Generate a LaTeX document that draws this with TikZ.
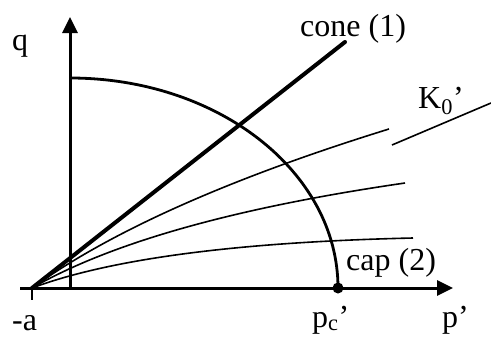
\documentclass[tikz,border=0pt]{standalone}
\usepackage{fontspec}
\setmainfont{Liberation Serif}
\usetikzlibrary{arrows.meta,positioning}
\tikzset{
  yfaxis/.style={line width=3pt,-{Triangle[length=16pt,width=15pt]}},
  yfcone/.style={line width=4pt,line cap=round},
  yfcap/.style={line width=2.8pt},
  yfpath/.style={line width=1.6pt},
  yftick/.style={line width=1.5pt},
  yflabel/.style={font=\fontsize{32}{36}\selectfont,inner sep=0pt,anchor=base west}
}

\begin{document}
\begin{tikzpicture}[x=1pt,y=-1pt]
  \useasboundingbox (0,0) rectangle (491,338);
  % axes
  \coordinate (xstart) at (20,288);
  \coordinate (xend) at (453,288);
  \coordinate (o) at (70,288);
  \coordinate (yend) at (70,17);
  \coordinate (a) at (32,288);
  \coordinate (atick) at (32,300);
  \draw[yfaxis] (xstart) -- (xend);
  \draw[yfaxis] (o) -- (yend);
  \draw[yftick] (a) -- (atick);
  % cone and cap
  \coordinate (conetip) at (345,42);
  \coordinate (captop) at (70,78);
  \coordinate (pc) at (338,288);
  \draw[yfcone] (a) -- (conetip);
  \draw[yfcap] (captop) .. controls (218,78) and (338,172) .. (pc);
  \fill (pc) circle[radius=5.5];
  % stress paths
  \coordinate (e1) at (389,129);
  \coordinate (e2) at (405,183);
  \coordinate (e3) at (413,238);
  \draw[yfpath] (a) .. controls (110.7,231.3) and (229.7,178.3) .. (e1);
  \draw[yfpath] (a) .. controls (110.7,242.7) and (235,207.7) .. (e2);
  \draw[yfpath] (a) .. controls (110.7,258.7) and (237.7,242) .. (e3);
  \coordinate (k1) at (392,145);
  \coordinate (k2) at (491,103);
  \draw[yfpath] (k1) -- (k2);
  % labels
  \node[yflabel] (qlab) at (12,50) {q};
  \node[yflabel] (conelab) at (300,36) {cone (1)};
  \node[yflabel] (klab) at (418,108) {K\textsubscript{0}’};
  \node[yflabel] (caplab) at (346,270) {cap (2)};
  \node[yflabel] (pclab) at (312,327) {p\textsubscript{c}’};
  \node[yflabel] (plab) at (442,327) {p’};
  \node[yflabel] (alab) at (12,330) {-a};
\end{tikzpicture}
\end{document}
